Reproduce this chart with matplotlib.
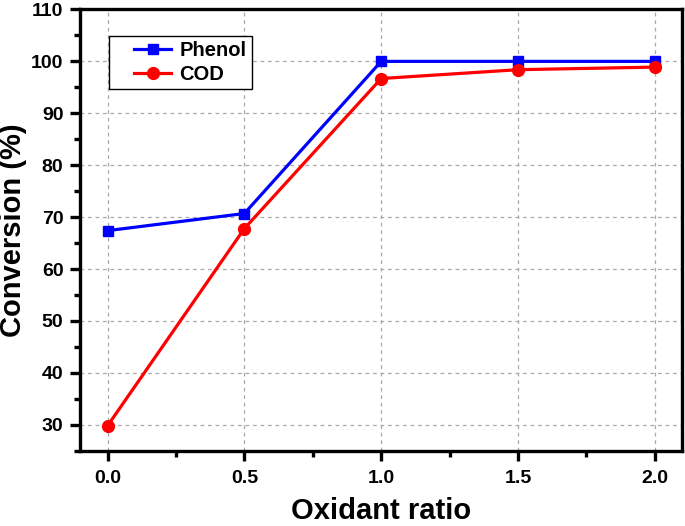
import matplotlib.pyplot as plt
from matplotlib.ticker import MultipleLocator
from matplotlib.legend_handler import HandlerLine2D

# Data
oxidant_ratio = [0.0, 0.5, 1.0, 1.5, 2.0]
phenol = [67.4, 70.7, 100.0, 100.0, 100.0]
cod = [29.8, 67.8, 96.7, 98.4, 98.9]

plt.rcParams['font.family'] = ['Liberation Sans', 'DejaVu Sans']
plt.rcParams['font.weight'] = 'bold'


# legend handle drawn in the right part of the handle box (leaves a wide left gap)
class RightLine(HandlerLine2D):
    def get_xdata(self, legend, xdescent, ydescent, width, height, fontsize):
        x1 = -xdescent + width
        x0 = x1 - width * 0.65
        xdata = [x0, x1]
        return xdata, [0.5 * (x0 + x1)]


fig = plt.figure(figsize=(6.85, 5.26), dpi=100)
ax = fig.add_axes([0.117, 0.143, 0.879, 0.839])

l1, = ax.plot(oxidant_ratio, phenol, color='#0000ff', lw=2.3, marker='s', ms=7.5, label='Phenol', zorder=3)
l2, = ax.plot(oxidant_ratio, cod, color='#ff0000', lw=2.3, marker='o', ms=8.5, label='COD', zorder=3)

ax.set_xlim(-0.1, 2.1)
ax.set_ylim(25, 110)
ax.xaxis.set_major_locator(MultipleLocator(0.5))
ax.xaxis.set_minor_locator(MultipleLocator(0.25))
ax.yaxis.set_major_locator(MultipleLocator(10))
ax.yaxis.set_minor_locator(MultipleLocator(5))
ax.xaxis.set_major_formatter(plt.FormatStrFormatter('%.1f'))

ax.grid(True, which='major', ls=(0, (3, 3)), color='#a8a8a8', lw=0.9)
ax.set_axisbelow(True)

for s in ax.spines.values():
    s.set_linewidth(2.4)
ax.tick_params(which='major', direction='out', length=7, width=2.4, labelsize=14, pad=5)
ax.tick_params(axis='x', which='major', pad=7)
ax.tick_params(which='minor', direction='out', length=4, width=2.4)
ax.tick_params(top=False, right=False)

ax.set_xlabel('Oxidant ratio', fontsize=21, fontweight='bold', labelpad=7)
ax.set_ylabel('Conversion (%)', fontsize=21, fontweight='bold', labelpad=3)

leg = ax.legend(handler_map={l1: RightLine(), l2: RightLine()},
                loc='upper left', bbox_to_anchor=(0.048, 0.939), borderaxespad=0,
                fontsize=14.5, fancybox=False, edgecolor='black', framealpha=1,
                handlelength=2.85, borderpad=0.25, labelspacing=0.25, handletextpad=0.4)
leg.get_frame().set_linewidth(1.0)

fig.savefig('out.png', dpi=100)
